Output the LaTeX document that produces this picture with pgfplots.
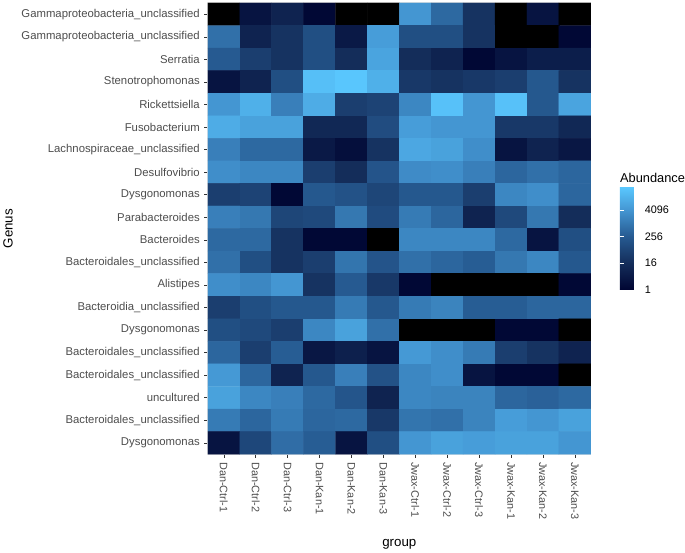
\documentclass[border=0pt]{standalone}
\usepackage{pgfplots}
\pgfplotsset{compat=1.18}
\usepackage{fontspec}
\setmainfont{Liberation Sans}
\definecolor{ticktext}{RGB}{77,77,77}
\definecolor{tickline}{RGB}{51,51,51}

\begin{document}
\begin{tikzpicture}
\begin{axis}[
  at={(210bp,91bp)}, anchor=south west,
  scale only axis, width=387bp, height=456bp,
  xmin=-0.5, xmax=11.5, ymin=-0.5, ymax=19.5, y dir=reverse,
  enlargelimits=false,
  xtick={0,...,11}, ytick={0,...,19},
  xticklabels={Dan-Ctrl-1,Dan-Ctrl-2,Dan-Ctrl-3,Dan-Kan-1,Dan-Kan-2,Dan-Kan-3,
    Jwax-Ctrl-1,Jwax-Ctrl-2,Jwax-Ctrl-3,Jwax-Kan-1,Jwax-Kan-2,Jwax-Kan-3},
  yticklabels={Gammaproteobacteria\_unclassified,Gammaproteobacteria\_unclassified,
    Serratia,Stenotrophomonas,Rickettsiella,Fusobacterium,Lachnospiraceae\_unclassified,
    Desulfovibrio,Dysgonomonas,Parabacteroides,Bacteroides,Bacteroidales\_unclassified,
    Alistipes,Bacteroidia\_unclassified,Dysgonomonas,Bacteroidales\_unclassified,
    Bacteroidales\_unclassified,uncultured,Bacteroidales\_unclassified,Dysgonomonas},
  tick pos=left, tick align=outside, major tick length=3.5bp,
  tick style={tickline, line width=0.5bp},
  tick label style={text=ticktext},
  xticklabel style={font=\fontsize{11}{13}\selectfont, rotate=-90, anchor=west, inner sep=4.5bp},
  yticklabel style={font=\fontsize{11.5}{13}\selectfont, inner sep=4.5bp},
  axis line style={gray!20, line width=1bp},
  xlabel={group}, ylabel={Genus},
  label style={font=\fontsize{13.5}{15}\selectfont},
  xlabel style={at={(axis description cs:0.5,-0.2)}, anchor=center},
  ylabel style={at={(axis description cs:-0.522,0.5)}, anchor=center},
  colormap={abund}{rgb255(0cm)=(0,0,0) rgb255(0.9cm)=(0,0,0) rgb255(1cm)=(0,5,50)
    rgb255(5cm)=(20,45,90) rgb255(9cm)=(38,90,145) rgb255(13cm)=(68,150,210)
    rgb255(16.45cm)=(90,200,255)},
  point meta min=-1, point meta max=15.45,
  colorbar,
  colorbar style={
    at={(parent axis.south east)}, anchor=south west, xshift=21bp, yshift=166bp,
    scale only axis, width=22bp, height=104bp,
    ymin=0, ymax=15.45,
    ytick={0,4,8,12}, yticklabels={1,16,256,4096},
    ytick pos=both, yticklabel pos=right,
    tick align=inside, major tick length=4.4bp,
    tick style={white, line width=0.6bp},
    yticklabel style={font=\fontsize{11}{13}\selectfont, text=black, inner sep=0pt, xshift=3bp},
    axis line style={draw=none},
    title={Abundance},
    title style={at={(0,1)}, anchor=base west, yshift=-1.5bp, inner sep=0pt,
      font=\fontsize{13}{15}\selectfont},
  },
]
% meta = log2(abundance); -1 marks a zero count (black tile)
% one line per genus, top to bottom; x = group index
\addplot[matrix plot*, mesh/cols=12, point meta=explicit] coordinates {
(0,0)[-1] (1,0)[1.5] (2,0)[3] (3,0)[0.3] (4,0)[-1] (5,0)[-1] (6,0)[12] (7,0)[9] (8,0)[4.5] (9,0)[-1] (10,0)[1.5] (11,0)[-1]
(0,1)[9.5] (1,1)[3] (2,1)[4.5] (3,1)[7] (4,1)[2] (5,1)[12.5] (6,1)[7] (7,1)[7] (8,1)[4.5] (9,1)[-1] (10,1)[-1] (11,1)[0.3]
(0,2)[8] (1,2)[5.5] (2,2)[4.5] (3,2)[7] (4,2)[4] (5,2)[13] (6,2)[4] (7,2)[3] (8,2)[0.3] (9,2)[1.5] (10,2)[2.5] (11,2)[2.5]
(0,3)[1.5] (1,3)[3] (2,3)[7] (3,3)[14.8] (4,3)[15.3] (5,3)[13.8] (6,3)[5] (7,3)[4.5] (8,3)[5] (9,3)[5.5] (10,3)[7.8] (11,3)[4.5]
(0,4)[12] (1,4)[13.8] (2,4)[10.5] (3,4)[13.5] (4,4)[5.5] (5,4)[6] (6,4)[11] (7,4)[15] (8,4)[12] (9,4)[15] (10,4)[7.8] (11,4)[13]
(0,5)[13.5] (1,5)[12.8] (2,5)[12.8] (3,5)[3.5] (4,5)[3.5] (5,5)[6.8] (6,5)[12.5] (7,5)[12] (8,5)[12] (9,5)[5] (10,5)[5] (11,5)[3.5]
(0,6)[10.5] (1,6)[9] (2,6)[9] (3,6)[2] (4,6)[1] (5,6)[4.5] (6,6)[13.2] (7,6)[12.8] (8,6)[11.5] (9,6)[1.5] (10,6)[3] (11,6)[1.8]
(0,7)[11.5] (1,7)[11] (2,7)[11] (3,7)[5.5] (4,7)[4] (5,7)[7.5] (6,7)[11.3] (7,7)[11.5] (8,7)[10.5] (9,7)[8.8] (10,7)[9.5] (11,7)[8.8]
(0,8)[5.5] (1,8)[6] (2,8)[0.3] (3,8)[7.8] (4,8)[7.3] (5,8)[6.2] (6,8)[7.8] (7,8)[7.8] (8,8)[5.5] (9,8)[11] (10,8)[11.5] (11,8)[8.8]
(0,9)[10.5] (1,9)[10] (2,9)[6.2] (3,9)[6.5] (4,9)[10] (5,9)[6.7] (6,9)[10.2] (7,9)[8.8] (8,9)[3] (9,9)[6.5] (10,9)[10] (11,9)[4]
(0,10)[9] (1,10)[9] (2,10)[4.5] (3,10)[0.3] (4,10)[0.3] (5,10)[-1] (6,10)[11] (7,10)[11] (8,10)[11] (9,10)[9] (10,10)[1.5] (11,10)[7]
(0,11)[9.5] (1,11)[7] (2,11)[4.5] (3,11)[5.5] (4,11)[9.8] (5,11)[7.5] (6,11)[9.5] (7,11)[8.8] (8,11)[8.2] (9,11)[10] (10,11)[11] (11,11)[7.8]
(0,12)[11.5] (1,12)[11] (2,12)[12] (3,12)[4.5] (4,12)[8] (5,12)[5] (6,12)[0.3] (7,12)[-1] (8,12)[-1] (9,12)[-1] (10,12)[-1] (11,12)[0.3]
(0,13)[5.5] (1,13)[7] (2,13)[7.8] (3,13)[7.8] (4,13)[10.2] (5,13)[7.8] (6,13)[10.2] (7,13)[10.8] (8,13)[8.2] (9,13)[8.2] (10,13)[8.8] (11,13)[8.8]
(0,14)[7] (1,14)[6.5] (2,14)[5.5] (3,14)[11] (4,14)[12.8] (5,14)[9.5] (6,14)[-1] (7,14)[-1] (8,14)[-1] (9,14)[0.3] (10,14)[0.3] (11,14)[-1]
(0,15)[8.8] (1,15)[5.5] (2,15)[8.2] (3,15)[1.8] (4,15)[2.7] (5,15)[1.5] (6,15)[12.2] (7,15)[11.5] (8,15)[10.2] (9,15)[5.5] (10,15)[4.5] (11,15)[3]
(0,16)[12.2] (1,16)[8.8] (2,16)[3] (3,16)[7.8] (4,16)[10.5] (5,16)[7.3] (6,16)[11] (7,16)[11.5] (8,16)[1.5] (9,16)[0.3] (10,16)[0.3] (11,16)[-1]
(0,17)[12.8] (1,17)[11] (2,17)[10.5] (3,17)[9] (4,17)[7.6] (5,17)[3] (6,17)[11] (7,17)[10.8] (8,17)[10.8] (9,17)[8.8] (10,17)[8.5] (11,17)[9]
(0,18)[10.2] (1,18)[8.8] (2,18)[10.2] (3,18)[8.8] (4,18)[9] (5,18)[5] (6,18)[9.8] (7,18)[9.5] (8,18)[10.8] (9,18)[12.5] (10,18)[12] (11,18)[12.8]
(0,19)[1.5] (1,19)[6.3] (2,19)[9.3] (3,19)[8.2] (4,19)[1.5] (5,19)[7] (6,19)[12] (7,19)[12.8] (8,19)[12.5] (9,19)[12.8] (10,19)[12.8] (11,19)[12]
};
\end{axis}
\path (0,0) rectangle (685bp,550bp);
\end{tikzpicture}
\end{document}
